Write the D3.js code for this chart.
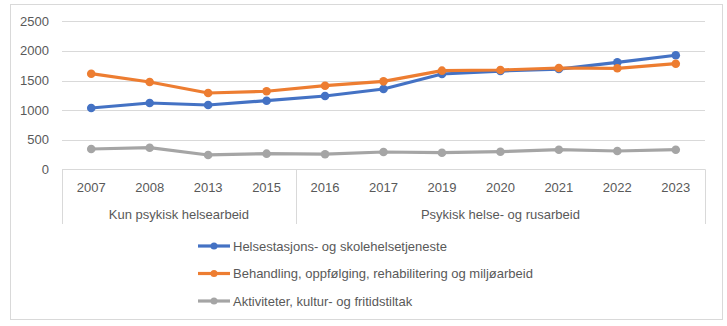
<!DOCTYPE html>
<html>
<head>
<meta charset="utf-8">
<script src="https://cdn.jsdelivr.net/npm/d3@7"></script>
<style>
  body { margin: 0; background: #fff; }
  text { font-family: "Liberation Sans", Arial, sans-serif; fill: #595959; }
</style>
</head>
<body>
<div id="chart"></div>
<script>
// data
var years = ["2007", "2008", "2013", "2015", "2016", "2017", "2019", "2020", "2021", "2022", "2023"];
var groups = [
    { name: "Kun psykisk helsearbeid", from: 0, to: 4 },
    { name: "Psykisk helse- og rusarbeid", from: 4, to: 11 }
];
var seriesNames = [
    "Helsestasjons- og skolehelsetjeneste",
    "Behandling, oppfølging, rehabilitering og miljøarbeid",
    "Aktiviteter, kultur- og fritidstiltak"
];
var helsestasjon = [1035, 1120, 1086, 1159, 1238, 1356, 1610, 1660, 1693, 1807, 1926];
var behandling = [1615, 1475, 1289, 1318, 1412, 1486, 1666, 1677, 1711, 1706, 1784];
var aktiviteter = [343, 365, 242, 264, 255, 292, 280, 297, 331, 309, 331];
var yTicks = [0, 500, 1000, 1500, 2000, 2500];
var colors = ["#4472C4", "#ED7D31", "#A5A5A5"];

var svgWidth = 727, svgHeight = 326;
var svg = d3.select("#chart").append("svg")
    .attr("width", svgWidth)
    .attr("height", svgHeight);

// outer frame
svg.append("rect")
    .attr("x", 10.5).attr("y", 4.5)
    .attr("width", 712).attr("height", 315)
    .attr("fill", "#fff")
    .attr("stroke", "#D9D9D9");

var plot = { left: 62, right: 705, top: 21.3, bottom: 169.3 };

var xScale = d3.scaleBand()
    .domain(years)
    .range([plot.left, plot.right]);

var yScale = d3.scaleLinear()
    .domain([0, 2500])
    .range([plot.bottom, plot.top]);

// gridlines
svg.append("g")
    .selectAll("line")
    .data(yTicks.slice(1))
    .enter()
    .append("line")
    .attr("x1", plot.left).attr("x2", plot.right)
    .attr("y1", d => Math.round(yScale(d)) + 0.5)
    .attr("y2", d => Math.round(yScale(d)) + 0.5)
    .attr("stroke", "#D9D9D9");

// y labels
svg.append("g")
    .selectAll("text")
    .data(yTicks)
    .enter()
    .append("text")
    .attr("x", 49)
    .attr("y", d => yScale(d) + 4.5)
    .attr("text-anchor", "end")
    .style("font-size", "13px")
    .text(d => d);

// category axis: baseline + group separators
var axisG = svg.append("g");
axisG.append("line")
    .attr("x1", plot.left).attr("x2", plot.right)
    .attr("y1", Math.round(plot.bottom) + 0.5).attr("y2", Math.round(plot.bottom) + 0.5)
    .attr("stroke", "#D9D9D9");

var sepX = [0, 4, 11].map(i => i < years.length ? xScale(years[i]) : plot.right);
axisG.selectAll(".sep")
    .data(sepX)
    .enter()
    .append("line")
    .attr("x1", d => Math.round(d) + 0.5).attr("x2", d => Math.round(d) + 0.5)
    .attr("y1", plot.bottom).attr("y2", 224)
    .attr("stroke", "#D9D9D9");

axisG.selectAll(".year")
    .data(years)
    .enter()
    .append("text")
    .attr("x", d => xScale(d) + xScale.bandwidth() / 2)
    .attr("y", 192)
    .attr("text-anchor", "middle")
    .style("font-size", "13px")
    .text(d => d);

axisG.selectAll(".grp")
    .data(groups)
    .enter()
    .append("text")
    .attr("x", d => {
        var a = xScale(years[d.from]);
        var b = d.to < years.length ? xScale(years[d.to]) : plot.right;
        return (a + b) / 2;
    })
    .attr("y", 219)
    .attr("text-anchor", "middle")
    .style("font-size", "13px")
    .text(d => d.name);

// lines
var allSeries = [helsestasjon, behandling, aktiviteter];
var line = d3.line()
    .x((d, i) => xScale(years[i]) + xScale.bandwidth() / 2)
    .y(d => yScale(d));

// draw gray first, then blue, orange on top
[2, 0, 1].forEach(function(s) {
    var g = svg.append("g");
    g.append("path")
        .datum(allSeries[s])
        .attr("d", line)
        .attr("fill", "none")
        .attr("stroke", colors[s])
        .attr("stroke-width", 3.2)
        .attr("stroke-linejoin", "round");
    g.selectAll("circle")
        .data(allSeries[s])
        .enter()
        .append("circle")
        .attr("cx", (d, i) => xScale(years[i]) + xScale.bandwidth() / 2)
        .attr("cy", d => yScale(d))
        .attr("r", 4.3)
        .attr("fill", colors[s]);
});

// legend
var legend = svg.append("g")
    .selectAll("g")
    .data(seriesNames)
    .enter()
    .append("g")
    .attr("transform", (d, i) => `translate(198, ${246 + i * 27.5})`);

legend.append("line")
    .attr("x1", 0).attr("x2", 32)
    .attr("y1", 0).attr("y2", 0)
    .attr("stroke", (d, i) => colors[i])
    .attr("stroke-width", 3.2);

legend.append("circle")
    .attr("cx", 16).attr("cy", 0).attr("r", 3.5)
    .attr("fill", (d, i) => colors[i]);

legend.append("text")
    .attr("x", 35)
    .attr("y", 4.5)
    .style("font-size", "13px")
    .text(d => d);
</script>
</body>
</html>
